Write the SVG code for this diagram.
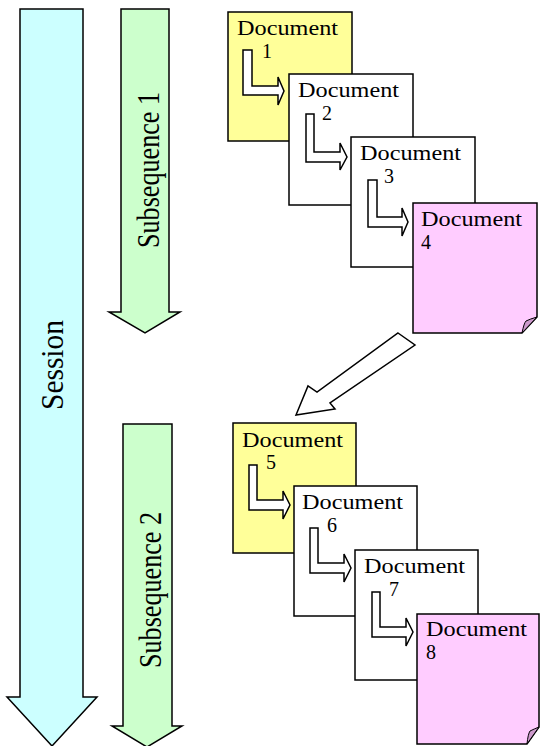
<svg xmlns="http://www.w3.org/2000/svg" width="541" height="746" viewBox="0 0 541 746">
<style>
.bar{stroke:#000;stroke-width:1.5;stroke-linejoin:miter}
.doc{stroke:#000;stroke-width:1.5}
.fold{fill:#cc99cc;stroke:#000;stroke-width:1}
.lbl{font-family:"Liberation Serif","Times New Roman",serif;font-size:20px;fill:#000}
.big{font-family:"Liberation Serif","Times New Roman",serif;fill:#000}
.con{fill:#fff;stroke:#000;stroke-width:1.5;stroke-linejoin:miter}
</style>
<rect width="541" height="746" fill="#fff"/>
<g id="session">
<polygon class="bar" fill="#ccffff" points="20,9 83,9 83,697 97,697 52,746 7,697 20,697"/>
<text class="big" font-size="32" text-anchor="middle" textLength="90" lengthAdjust="spacingAndGlyphs" transform="translate(63,365) rotate(-90)">Session</text>
</g>
<g id="subsequence1">
<polygon class="bar" fill="#ccffcc" points="121,9 169,9 169,312 180,312 145,333 109,312 121,312"/>
<text class="big" font-size="31" text-anchor="middle" textLength="156" lengthAdjust="spacingAndGlyphs" transform="translate(159,170) rotate(-90)">Subsequence 1</text>
</g>
<g id="subsequence2">
<polygon class="bar" fill="#ccffcc" points="123,424 172,424 172,726 182,726 147,747 112,726 123,726"/>
<text class="big" font-size="31" text-anchor="middle" textLength="156" lengthAdjust="spacingAndGlyphs" transform="translate(161,590) rotate(-90)">Subsequence 2</text>
</g>
<g id="doc1">
<rect class="doc" x="228" y="12" width="124" height="129" fill="#ffff99"/>
<text class="lbl" x="237" y="35" textLength="101" lengthAdjust="spacingAndGlyphs">Document</text>
<text class="lbl" x="262" y="58">1</text>
</g>
<g id="doc2">
<rect class="doc" x="289" y="74" width="124" height="131" fill="#fff"/>
<text class="lbl" x="298" y="97" textLength="101" lengthAdjust="spacingAndGlyphs">Document</text>
<text class="lbl" x="322" y="120">2</text>
</g>
<g id="doc3">
<rect class="doc" x="351" y="137" width="124" height="130" fill="#fff"/>
<text class="lbl" x="360" y="160" textLength="101" lengthAdjust="spacingAndGlyphs">Document</text>
<text class="lbl" x="384" y="183">3</text>
</g>
<g id="doc4">
<polygon class="doc" fill="#ffccff" points="413,203 537,203 537,317 522,333 413,333"/>
<path class="fold" d="M537,317 L522,333 Q524,323 526,321 Q530,319 537,317 Z"/>
<text class="lbl" x="421" y="226" textLength="101" lengthAdjust="spacingAndGlyphs">Document</text>
<text class="lbl" x="421" y="249">4</text>
</g>
<g id="doc5">
<rect class="doc" x="233" y="423" width="123" height="130" fill="#ffff99"/>
<text class="lbl" x="242" y="447" textLength="101" lengthAdjust="spacingAndGlyphs">Document</text>
<text class="lbl" x="266" y="469">5</text>
</g>
<g id="doc6">
<rect class="doc" x="294" y="486" width="123" height="130" fill="#fff"/>
<text class="lbl" x="302" y="509" textLength="101" lengthAdjust="spacingAndGlyphs">Document</text>
<text class="lbl" x="327" y="532">6</text>
</g>
<g id="doc7">
<rect class="doc" x="355" y="550" width="123" height="130" fill="#fff"/>
<text class="lbl" x="364" y="573" textLength="101" lengthAdjust="spacingAndGlyphs">Document</text>
<text class="lbl" x="389" y="596">7</text>
</g>
<g id="doc8">
<polygon class="doc" fill="#ffccff" points="417,614 539,614 539,727 527,744 417,744"/>
<path class="fold" d="M539,727 L527,744 Q528,734 530,731 Q534,729 539,727 Z"/>
<text class="lbl" x="426" y="636" textLength="101" lengthAdjust="spacingAndGlyphs">Document</text>
<text class="lbl" x="426" y="659">8</text>
</g>
<g id="connectors">
<polygon class="con" points="243,50 252,50 252,86 278,86 278,77 284,91 278,105 278,95 243,95"/>
<polygon class="con" points="306,114 314,114 314,152 340,152 340,143 347,157 340,170 340,162 306,162"/>
<polygon class="con" points="368,180 377,180 377,217 402,217 402,208 408,222 402,236 402,227 368,227"/>
<polygon class="con" points="249,465 257,465 257,500 283,500 283,491 290,505 283,519 283,510 249,510"/>
<polygon class="con" points="310,528 318,528 318,563 344,563 344,554 351,568 344,582 344,573 310,573"/>
<polygon class="con" points="372,592 380,592 380,627 406,627 406,618 413,632 406,646 406,637 372,637"/>
<polygon class="con" points="398,333 415,345 330,403 335,409 296,415 308,386 317,392"/>
</g>
</svg>
